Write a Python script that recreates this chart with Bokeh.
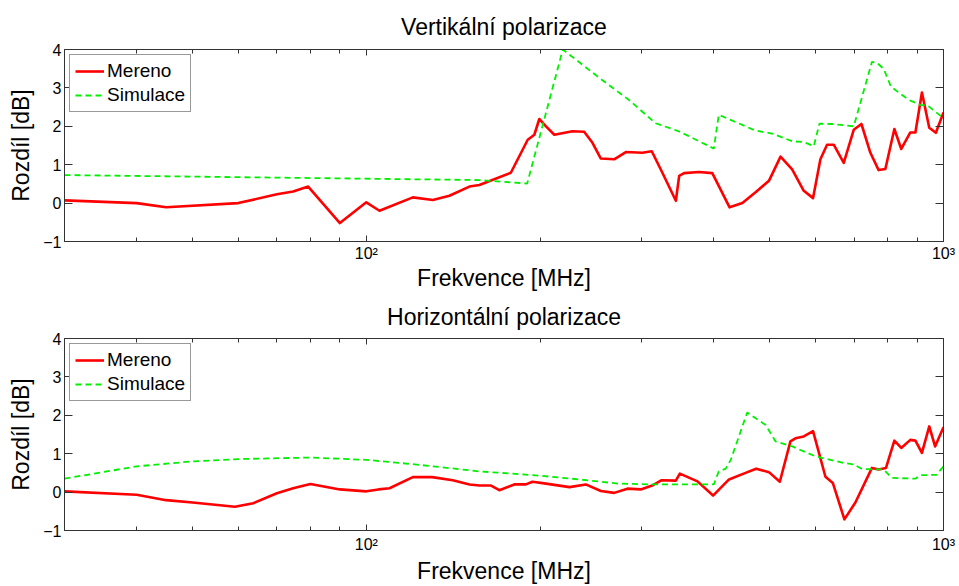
from bokeh.plotting import figure
from bokeh.models import FixedTicker, LinearAxis, LogAxis, CustomJSTickFormatter
from bokeh.layouts import column
from bokeh.embed import file_html
from bokeh.resources import INLINE

FONT = "Liberation Sans"
AX = "#333333"

# ---- data (frequency in MHz, difference in dB) ----
v_meas_f = [30, 40, 45, 60, 70, 74.7, 79.3, 90, 100, 105.4, 120.4, 130.4, 139.3, 150.9, 157, 178, 190.4,
            195.5, 199.4, 204.8, 211.7, 227.6, 238.5, 246.5, 254.9, 268.8, 281.6, 300.8, 312.3, 325.8,
            343.8, 348.4, 355.3, 377, 397.6, 426, 448.3, 472.5, 498.4, 522, 546.7, 572.7, 594.3, 612,
            628.4, 645.4, 671.7, 699, 720.8, 747, 772, 793, 822, 845, 876, 894, 917.5, 944.8, 970, 1000]
v_meas = [0.07, 0.0, -0.11, 0.0, 0.23, 0.30, 0.43, -0.52, 0.02, -0.2, 0.15, 0.08, 0.19, 0.43, 0.47, 0.79,
          1.65, 1.78, 2.19, 2.0, 1.78, 1.87, 1.86, 1.57, 1.16, 1.14, 1.33, 1.31, 1.35, 0.79, 0.06, 0.71,
          0.78, 0.81, 0.78, -0.11, 0.0, 0.28, 0.58, 1.21, 0.88, 0.32, 0.13, 1.14, 1.52, 1.52, 1.05, 1.91,
          2.06, 1.31, 0.86, 0.89, 1.93, 1.41, 1.84, 1.84, 2.88, 1.96, 1.83, 2.36]

v_sim_f = [30, 157, 190, 219, 256.5, 285, 317, 348, 400, 408, 472, 505, 547, 573, 596, 609.6, 640, 699,
           751.7, 767, 787.6, 811, 870, 911, 939, 1000]
v_sim = [0.73, 0.6, 0.51, 4.0, 3.2, 2.69, 2.08, 1.87, 1.42, 2.3, 1.89, 1.81, 1.61, 1.59, 1.48, 2.07,
         2.06, 2.0, 3.68, 3.65, 3.5, 3.03, 2.69, 2.56, 2.54, 2.21]

h_meas_f = [30, 40, 45, 50, 59.2, 63.7, 70, 74.7, 80, 90, 100, 105, 109.7, 120.4, 130, 141.2, 151, 157,
            164.5, 170, 180.5, 189, 194, 204.8, 224.9, 240, 254.9, 268.8, 283.4, 298.9, 312.8, 324.9,
            343.8, 349.3, 374.8, 398.8, 425, 454, 473.7, 498.4, 520.5, 543, 554, 572.7, 594.3, 624.4,
            643, 673.5, 703.6, 751.7, 772, 795, 822, 845, 876, 894, 917.5, 944.8, 967, 1000]
h_meas = [0.02, -0.07, -0.21, -0.27, -0.38, -0.29, -0.03, 0.1, 0.21, 0.07, 0.02, 0.07, 0.1, 0.39, 0.39,
          0.31, 0.2, 0.17, 0.17, 0.05, 0.2, 0.2, 0.27, 0.22, 0.13, 0.2, 0.03, -0.02, 0.09, 0.07, 0.17,
          0.31, 0.3, 0.48, 0.28, -0.09, 0.33, 0.5, 0.61, 0.52, 0.27, 1.32, 1.4, 1.45, 1.59, 0.4, 0.24,
          -0.71, -0.27, 0.63, 0.59, 0.63, 1.34, 1.15, 1.36, 1.34, 1.02, 1.71, 1.19, 1.69]

h_sim_f = [30, 40, 50, 60, 80, 100, 120, 157, 199, 233.8, 274, 312, 400, 408, 419.5, 428, 457, 491.7,
           511.8, 547, 600, 671.7, 699, 722.5, 787.6, 814, 894, 911, 972, 1000]
h_sim = [0.35, 0.67, 0.8, 0.86, 0.9, 0.84, 0.73, 0.54, 0.43, 0.33, 0.22, 0.2, 0.2, 0.54, 0.61, 0.84,
         2.07, 1.75, 1.32, 1.19, 0.93, 0.76, 0.72, 0.6, 0.59, 0.37, 0.35, 0.44, 0.45, 0.67]

x_major = [100, 1000]
x_minor = [40, 50, 60, 70, 80, 90, 200, 300, 400, 500, 600, 700, 800, 900]
x_labels = {100: "10²", 1000: "10³"}
y_ticks = [-1, 0, 1, 2, 3, 4]
y_labels = {-1: "−1"}

titles = ["Vertikální polarizace", "Horizontální polarizace"]
x_label = "Frekvence [MHz]"
y_label = "Rozdíl [dB]"
series_names = ["Mereno", "Simulace"]

blank = CustomJSTickFormatter(code="return ''")


def make_fig(title, f_meas, meas, f_sim, sim, height, b_top, b_bottom,
             title_standoff, tick_standoff, xlabel_standoff):
    p = figure(width=958, height=height, x_axis_type="log", x_range=(30, 1000), y_range=(-1, 4),
               output_backend="svg", toolbar_location=None,
               min_border_left=64, min_border_right=15, min_border_top=b_top, min_border_bottom=b_bottom,
               title=title, background_fill_color="white", border_fill_color="white")
    p.grid.visible = False
    p.outline_line_color = AX
    p.outline_line_width = 1

    p.title.text_font = FONT
    p.title.text_font_size = "23px"
    p.title.text_font_style = "normal"
    p.title.text_color = "black"
    p.title.align = "center"
    p.title.standoff = title_standoff

    xa = p.xaxis[0]
    xa.ticker = FixedTicker(ticks=x_major, minor_ticks=x_minor)
    xa.major_label_overrides = x_labels
    xa.axis_label = x_label
    xa.axis_label_text_font = FONT
    xa.axis_label_text_font_size = "23px"
    xa.axis_label_text_font_style = "normal"
    xa.axis_label_text_color = "black"
    xa.axis_label_standoff = xlabel_standoff
    xa.major_label_text_font = FONT
    xa.major_label_text_font_size = "16px"
    xa.major_label_text_color = "black"
    xa.major_label_standoff = tick_standoff
    xa.major_tick_in = 6
    xa.major_tick_out = 0
    xa.minor_tick_in = 4
    xa.minor_tick_out = 0
    xa.axis_line_color = AX
    xa.major_tick_line_color = AX
    xa.minor_tick_line_color = AX

    ya = p.yaxis[0]
    ya.ticker = FixedTicker(ticks=y_ticks)
    ya.major_label_overrides = y_labels
    ya.axis_label = y_label
    ya.axis_label_text_font = FONT
    ya.axis_label_text_font_size = "23px"
    ya.axis_label_text_font_style = "normal"
    ya.axis_label_text_color = "black"
    ya.axis_label_standoff = 6
    ya.major_label_text_font = FONT
    ya.major_label_text_font_size = "16px"
    ya.major_label_text_color = "black"
    ya.major_label_standoff = 3
    ya.major_tick_in = 8
    ya.major_tick_out = 0
    ya.minor_tick_line_color = None
    ya.axis_line_color = AX
    ya.major_tick_line_color = AX

    right = LinearAxis(ticker=FixedTicker(ticks=y_ticks), formatter=blank,
                       major_tick_in=8, major_tick_out=0, major_label_standoff=0,
                       major_label_text_font_size="0px",
                       axis_line_color=AX, major_tick_line_color=AX, minor_tick_line_color=None)
    p.add_layout(right, "right")
    top = LogAxis(ticker=FixedTicker(ticks=x_major, minor_ticks=x_minor), formatter=blank,
                  major_tick_in=6, major_tick_out=0, minor_tick_in=4, minor_tick_out=0,
                  major_label_standoff=0, major_label_text_font_size="0px",
                  axis_line_color=AX, major_tick_line_color=AX, minor_tick_line_color=AX)
    p.add_layout(top, "above")

    p.line(f_meas, meas, line_color="#ff0000", line_width=2.6, line_join="round",
           legend_label=series_names[0])
    p.line(f_sim, sim, line_color="#00f000", line_width=1.8, line_dash="6 4",
           legend_label=series_names[1])

    lg = p.legend[0]
    lg.location = "top_left"
    lg.margin = 5
    lg.padding = 5
    lg.spacing = 2
    lg.glyph_width = 29
    lg.glyph_height = 20
    lg.label_height = 20
    lg.label_standoff = 3
    lg.label_text_font = FONT
    lg.label_text_font_size = "19px"
    lg.label_text_color = "black"
    lg.border_line_color = AX
    lg.border_line_width = 1
    lg.background_fill_alpha = 1.0
    return p


p1 = make_fig(titles[0], v_meas_f, v_meas, v_sim_f, v_sim, 293, 49, 51, 19, 3, 0)
p2 = make_fig(titles[1], h_meas_f, h_meas, h_sim_f, h_sim, 293, 45, 55, 17, 5, 2)

layout = column(p1, p2, spacing=0)
open("out.html", "w").write(file_html(layout, INLINE))
